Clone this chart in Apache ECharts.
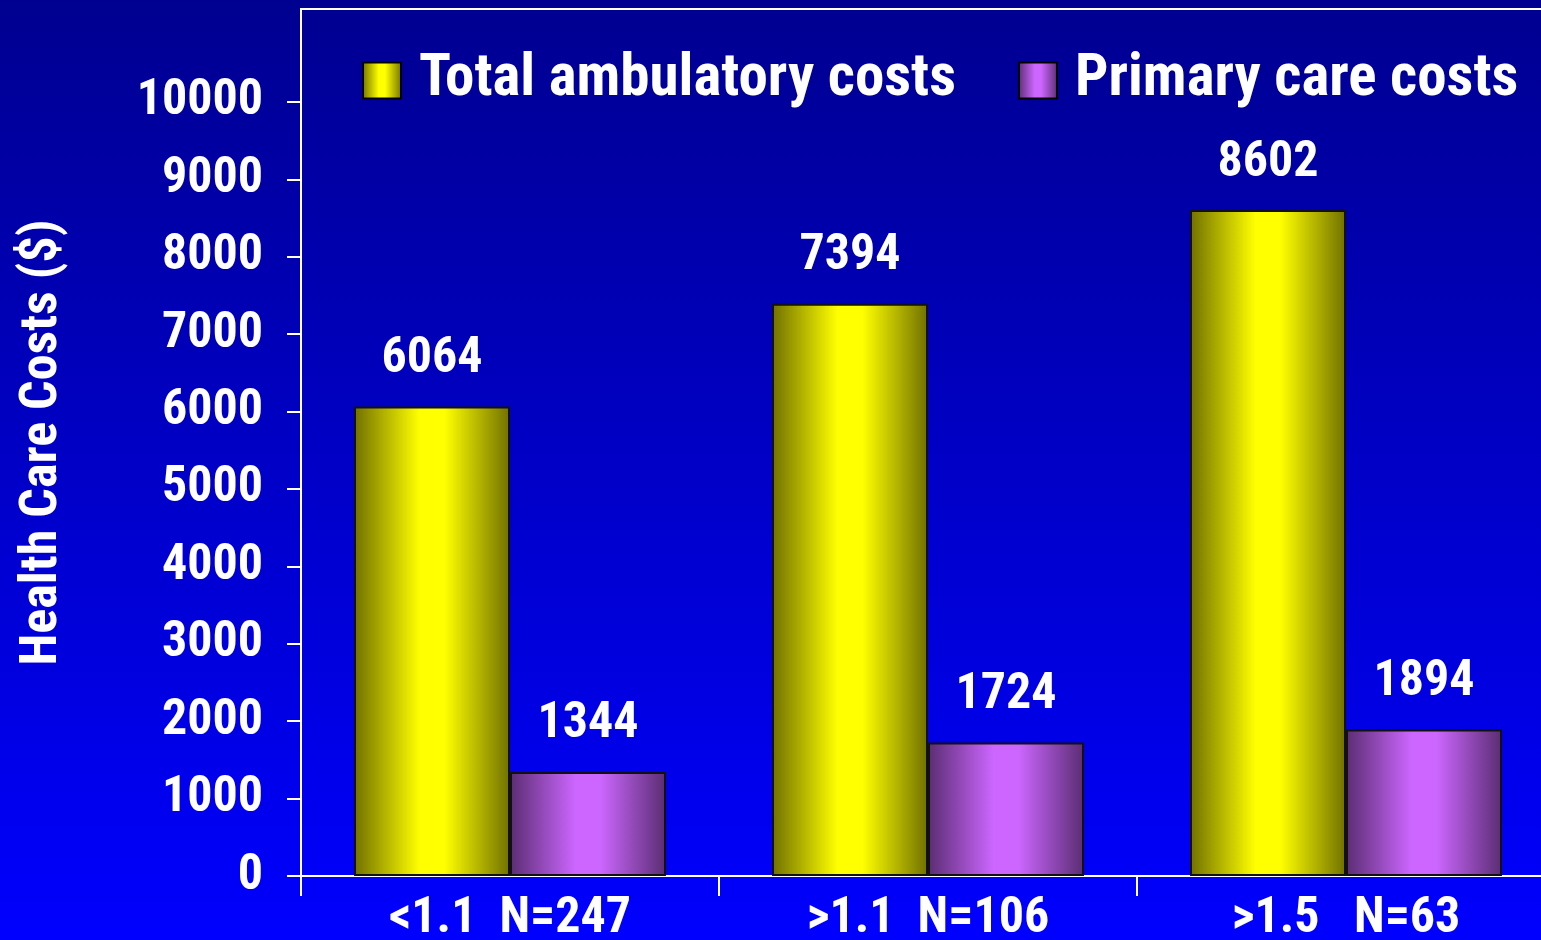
<!DOCTYPE html>
<html>
<head>
<meta charset="utf-8">
<script src="https://cdn.jsdelivr.net/npm/echarts@6/dist/echarts.min.js"></script>
<style>
  html, body { margin: 0; padding: 0; }
  #chart { width: 1541px; height: 940px; }
</style>
</head>
<body>
<div id="chart"></div>
<script>
var categories = ["<1.1  N=247", ">1.1  N=106", ">1.5   N=63"];
var totalCosts = [6064, 7394, 8602];
var primaryCosts = [1344, 1724, 1894];
var yTicks = [0, 1000, 2000, 3000, 4000, 5000, 6000, 7000, 8000, 9000, 10000];
var legendNames = ["Total ambulatory costs", "Primary care costs"];

// narrow bold face wanted; fall back down the list
var font = "'Roboto Condensed', 'Noto Sans Condensed', 'Liberation Sans Narrow', 'Liberation Sans', sans-serif";

var chart = echarts.init(document.getElementById("chart"));

function barGradient(edge, mid) {
  return new echarts.graphic.LinearGradient(0, 0, 1, 0, [
    { offset: 0, color: edge },
    { offset: 0.42, color: mid },
    { offset: 0.58, color: mid },
    { offset: 1, color: edge }
  ]);
}

var valueLabel = {
  show: true,
  position: "top",
  distance: 22,
  color: "#fff",
  fontFamily: font,
  fontWeight: "bold",
  fontSize: 50
};

var option = {
  backgroundColor: new echarts.graphic.LinearGradient(0, 0, 0, 1, [
    { offset: 0, color: "#000090" },
    { offset: 1, color: "#0000ff" }
  ]),
  textStyle: { fontFamily: font },
  grid: {
    left: 301,
    top: 9,
    bottom: 64,
    right: -14,
    outerBoundsMode: "none",
    show: true,
    borderColor: "#fff",
    borderWidth: 2,
    backgroundColor: "transparent"
  },
  legend: {
    data: legendNames,
    left: 362,
    top: 51,
    padding: 0,
    itemWidth: 38,
    itemHeight: 36,
    itemGap: 62,
    icon: "rect",
    itemStyle: { borderColor: "#000", borderWidth: 2 },
    textStyle: {
      color: "#fff",
      fontFamily: font,
      fontWeight: "bold",
      fontSize: 59,
      padding: [0, 0, 0, 13]
    }
  },
  xAxis: {
    type: "category",
    data: categories,
    axisLine: { lineStyle: { color: "#fff", width: 2 } },
    axisTick: { show: true, length: 20, lineStyle: { color: "#fff", width: 2 } },
    axisLabel: {
      color: "#fff",
      fontFamily: font,
      fontWeight: "bold",
      fontSize: 50,
      lineHeight: 50,
      margin: 18
    }
  },
  yAxis: {
    type: "value",
    min: 0,
    max: 11200,
    name: "Health Care Costs ($)",
    nameLocation: "middle",
    nameGap: 232,
    nameTextStyle: {
      color: "#fff",
      fontFamily: font,
      fontWeight: "bold",
      fontSize: 52
    },
    axisLine: { show: true, lineStyle: { color: "#fff", width: 2 } },
    axisTick: { show: true, length: 14, customValues: yTicks, lineStyle: { color: "#fff", width: 2 } },
    axisLabel: {
      customValues: yTicks,
      formatter: function (v) { return String(v); },
      color: "#fff",
      fontFamily: font,
      fontWeight: "bold",
      fontSize: 50,
      margin: 38
    },
    splitLine: { show: false }
  },
  series: [
    {
      name: legendNames[0],
      type: "bar",
      data: totalCosts,
      barWidth: 156,
      barGap: "0%",
      itemStyle: {
        color: barGradient("#707000", "#ffff00"),
        borderColor: "#111",
        borderWidth: 2
      },
      label: valueLabel
    },
    {
      name: legendNames[1],
      type: "bar",
      data: primaryCosts,
      barWidth: 156,
      barGap: "0%",
      itemStyle: {
        color: barGradient("#5a2d72", "#cc66ff"),
        borderColor: "#111",
        borderWidth: 2
      },
      label: valueLabel
    }
  ]
};

chart.setOption(option);
</script>
</body>
</html>
